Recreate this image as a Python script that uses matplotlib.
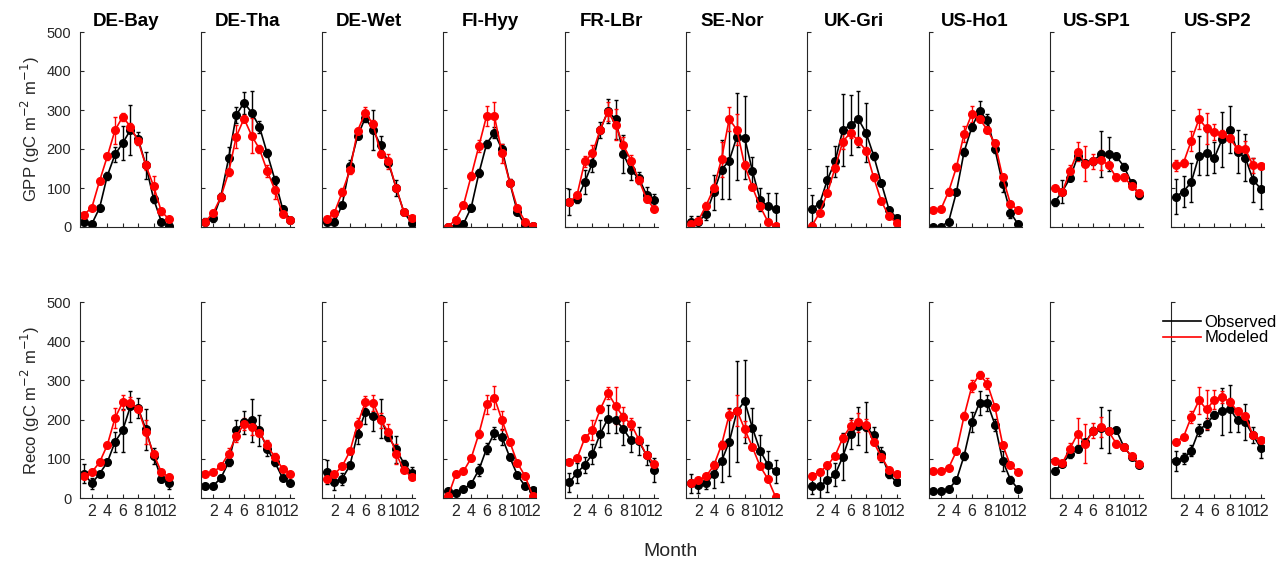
import numpy as np
import matplotlib
matplotlib.use("Agg")
import matplotlib.pyplot as plt

plt.rcParams['font.family'] = ['Liberation Sans', 'DejaVu Sans']

sites = ["DE-Bay", "DE-Tha", "DE-Wet", "FI-Hyy", "FR-LBr",
         "SE-Nor", "UK-Gri", "US-Ho1", "US-SP1", "US-SP2"]
months = np.arange(1, 13)

# monthly GPP, observed (mean, spread) and modeled (mean, spread)
gpp_obs = {
    "DE-Bay": [12, 8, 49, 131, 186, 215, 249, 226, 158, 72, 14, 2],
    "DE-Tha": [14, 23, 78, 176, 287, 319, 293, 257, 189, 121, 47, 19],
    "DE-Wet": [14, 12, 57, 157, 233, 280, 249, 209, 164, 100, 38, 10],
    "FI-Hyy": [0, 1, 8, 50, 138, 213, 242, 199, 114, 38, 4, 2],
    "FR-LBr": [64, 72, 115, 165, 249, 297, 276, 187, 145, 125, 83, 70],
    "SE-Nor": [13, 14, 33, 89, 147, 170, 232, 229, 144, 70, 53, 46],
    "UK-Gri": [47, 60, 121, 168, 249, 262, 277, 242, 183, 112, 44, 23],
    "US-Ho1": [1, 1, 14, 89, 193, 256, 297, 274, 199, 110, 37, 7],
    "US-SP1": [63, 91, 125, 181, 164, 168, 187, 187, 181, 155, 112, 81],
    "US-SP2": [78, 91, 115, 183, 189, 178, 225, 250, 193, 178, 121, 98],
}
gpp_obs_err = {
    "DE-Bay": [8, 5, 8, 10, 20, 44, 64, 17, 34, 10, 5, 3],
    "DE-Tha": [8, 10, 10, 30, 20, 28, 57, 15, 10, 10, 8, 5],
    "DE-Wet": [8, 5, 8, 15, 8, 10, 51, 25, 10, 20, 5, 5],
    "FI-Hyy": [2, 2, 5, 8, 10, 10, 15, 15, 8, 5, 3, 2],
    "FR-LBr": [33, 10, 30, 25, 20, 30, 50, 49, 25, 15, 20, 15],
    "SE-Nor": [15, 15, 15, 45, 75, 97, 112, 107, 35, 30, 35, 40],
    "UK-Gri": [35, 10, 35, 40, 92, 77, 71, 75, 10, 8, 8, 8],
    "US-Ho1": [2, 2, 5, 8, 10, 10, 25, 15, 10, 20, 15, 5],
    "US-SP1": [8, 30, 8, 8, 8, 8, 60, 43, 10, 8, 8, 8],
    "US-SP2": [44, 40, 50, 50, 55, 40, 70, 61, 55, 60, 57, 53],
}
gpp_mod = {
    "DE-Bay": [32, 50, 118, 181, 248, 283, 257, 220, 158, 105, 40, 20],
    "DE-Tha": [14, 36, 77, 140, 232, 278, 234, 200, 144, 95, 33, 19],
    "DE-Wet": [20, 37, 89, 145, 247, 293, 264, 187, 168, 100, 38, 24],
    "FI-Hyy": [1, 19, 56, 131, 208, 285, 285, 189, 114, 48, 14, 2],
    "FR-LBr": [63, 82, 168, 189, 250, 296, 262, 210, 170, 121, 72, 47],
    "SE-Nor": [7, 16, 55, 99, 174, 277, 249, 158, 102, 53, 14, 2],
    "UK-Gri": [3, 37, 87, 152, 219, 242, 221, 196, 127, 66, 27, 10],
    "US-Ho1": [43, 46, 91, 153, 239, 290, 278, 249, 215, 127, 60, 43],
    "US-SP1": [101, 89, 144, 193, 162, 168, 172, 159, 127, 127, 106, 87],
    "US-SP2": [158, 165, 221, 277, 253, 244, 238, 227, 200, 200, 158, 157],
}
gpp_mod_err = {
    "DE-Bay": [5, 5, 8, 10, 34, 10, 10, 8, 12, 27, 8, 5],
    "DE-Tha": [5, 8, 10, 10, 30, 10, 45, 10, 15, 22, 8, 5],
    "DE-Wet": [5, 5, 10, 10, 8, 15, 10, 8, 20, 8, 5, 5],
    "FI-Hyy": [2, 5, 8, 10, 15, 25, 35, 25, 8, 5, 3, 2],
    "FR-LBr": [5, 8, 15, 20, 10, 25, 40, 20, 15, 8, 5, 5],
    "SE-Nor": [3, 5, 8, 10, 45, 30, 40, 10, 8, 5, 3, 2],
    "UK-Gri": [3, 5, 8, 10, 20, 15, 10, 8, 8, 5, 5, 3],
    "US-Ho1": [5, 5, 8, 10, 20, 20, 10, 8, 8, 8, 5, 5],
    "US-SP1": [5, 5, 15, 25, 45, 20, 25, 8, 8, 8, 5, 5],
    "US-SP2": [15, 10, 25, 25, 40, 20, 10, 8, 8, 20, 20, 8],
}

# monthly ecosystem respiration
reco_obs = {
    "DE-Bay": [62, 37, 62, 91, 143, 173, 234, 229, 175, 108, 49, 37],
    "DE-Tha": [30, 31, 51, 91, 173, 193, 198, 173, 126, 91, 51, 37],
    "DE-Wet": [66, 40, 49, 83, 164, 219, 210, 202, 156, 124, 88, 64],
    "FI-Hyy": [17, 13, 23, 36, 72, 126, 166, 155, 104, 58, 30, 20],
    "FR-LBr": [40, 64, 85, 112, 164, 202, 200, 176, 147, 145, 109, 72],
    "SE-Nor": [37, 32, 38, 60, 94, 143, 221, 247, 179, 121, 85, 68],
    "UK-Gri": [30, 31, 45, 60, 105, 164, 183, 182, 160, 111, 60, 40],
    "US-Ho1": [17, 17, 23, 45, 108, 194, 243, 243, 187, 95, 47, 23],
    "US-SP1": [68, 88, 111, 126, 142, 172, 179, 170, 173, 130, 105, 83],
    "US-SP2": [95, 101, 121, 173, 189, 213, 221, 228, 198, 194, 160, 128],
}
reco_obs_err = {
    "DE-Bay": [25, 15, 8, 8, 25, 55, 40, 25, 52, 20, 8, 15],
    "DE-Tha": [5, 5, 8, 10, 25, 30, 55, 40, 20, 10, 5, 5],
    "DE-Wet": [30, 20, 15, 8, 25, 30, 40, 50, 10, 35, 8, 15],
    "FI-Hyy": [3, 3, 5, 8, 15, 15, 15, 20, 8, 5, 5, 5],
    "FR-LBr": [25, 25, 20, 25, 35, 35, 35, 40, 30, 35, 25, 30],
    "SE-Nor": [25, 20, 15, 35, 52, 87, 129, 106, 50, 40, 35, 29],
    "UK-Gri": [20, 30, 30, 30, 60, 40, 49, 64, 20, 20, 8, 8],
    "US-Ho1": [3, 3, 5, 8, 10, 25, 30, 20, 15, 25, 10, 5],
    "US-SP1": [5, 5, 10, 8, 8, 8, 52, 55, 8, 8, 5, 5],
    "US-SP2": [25, 15, 15, 15, 15, 10, 60, 60, 30, 45, 20, 25],
}
reco_mod = {
    "DE-Bay": [57, 66, 91, 135, 204, 244, 243, 228, 168, 113, 66, 53],
    "DE-Tha": [60, 66, 81, 113, 159, 188, 181, 165, 134, 104, 75, 62],
    "DE-Wet": [49, 61, 81, 119, 189, 244, 243, 198, 168, 112, 72, 53],
    "FI-Hyy": [4, 60, 68, 102, 164, 239, 256, 198, 143, 89, 55, 4],
    "FR-LBr": [92, 101, 153, 173, 226, 268, 235, 206, 189, 149, 109, 88],
    "SE-Nor": [37, 45, 55, 83, 135, 213, 223, 176, 130, 81, 49, 3],
    "UK-Gri": [57, 66, 83, 108, 153, 183, 193, 187, 142, 105, 72, 60],
    "US-Ho1": [68, 68, 77, 119, 209, 285, 315, 292, 232, 136, 83, 66],
    "US-SP1": [95, 89, 126, 164, 139, 172, 181, 170, 139, 130, 106, 87],
    "US-SP2": [143, 156, 207, 249, 226, 251, 258, 245, 221, 209, 160, 147],
}
reco_mod_err = {
    "DE-Bay": [5, 5, 8, 8, 25, 20, 15, 8, 30, 8, 5, 5],
    "DE-Tha": [5, 5, 5, 15, 15, 15, 20, 8, 15, 10, 5, 5],
    "DE-Wet": [5, 5, 8, 8, 15, 15, 20, 20, 20, 25, 5, 5],
    "FI-Hyy": [2, 5, 5, 8, 10, 25, 30, 25, 8, 5, 5, 2],
    "FR-LBr": [5, 5, 8, 25, 10, 15, 47, 25, 15, 8, 5, 5],
    "SE-Nor": [5, 5, 5, 8, 10, 15, 40, 20, 8, 5, 5, 2],
    "UK-Gri": [5, 5, 5, 8, 10, 15, 25, 15, 8, 5, 5, 5],
    "US-Ho1": [5, 5, 5, 8, 10, 15, 10, 15, 8, 8, 5, 5],
    "US-SP1": [5, 5, 15, 40, 50, 20, 25, 8, 8, 5, 5, 5],
    "US-SP2": [5, 5, 15, 35, 50, 25, 15, 10, 8, 8, 5, 5],
}

rows = [
    (gpp_obs, gpp_obs_err, gpp_mod, gpp_mod_err, "GPP (gC m$^{-2}$ m$^{-1}$)"),
    (reco_obs, reco_obs_err, reco_mod, reco_mod_err, "Reco (gC m$^{-2}$ m$^{-1}$)"),
]

W, H = 1279, 565
fig = plt.figure(figsize=(W / 100, H / 100), dpi=100)

left0, step, width = 79.5, 121.3, 93
row_px = [(32, 227), (302, 498)]   # top / bottom in pixels

for r, (obs, obs_err, mod, mod_err, ylab) in enumerate(rows):
    top, bot = row_px[r]
    for i, site in enumerate(sites):
        ax = fig.add_axes([(left0 + i * step) / W, 1 - bot / H,
                           width / W, (bot - top) / H])
        ax.errorbar(months, obs[site], yerr=obs_err[site], fmt='-o', color='black',
                    ms=5.5, lw=1.2, elinewidth=1, capsize=1.5, label='Observed')
        ax.errorbar(months, mod[site], yerr=mod_err[site], fmt='-o', color='#ff0000',
                    ms=5.5, lw=1.2, elinewidth=1, capsize=1.5, label='Modeled')
        ax.set_xlim(0.4, 12.45)
        ax.set_ylim(0, 500)
        ax.set_xticks([2, 4, 6, 8, 10, 12])
        ax.set_yticks([0, 100, 200, 300, 400, 500])
        ax.tick_params(direction='in', length=3, width=0.8, colors='#262626')
        ax.tick_params(axis='x', labelsize=11.5, pad=4)
        ax.tick_params(axis='y', labelsize=10.5, pad=6)
        for s in ['top', 'right']:
            ax.spines[s].set_visible(False)
        for s in ['left', 'bottom']:
            ax.spines[s].set_color('#262626')
            ax.spines[s].set_linewidth(0.8)
        if r == 0:
            ax.set_title(site, fontsize=13.5, fontweight='bold', pad=4)
            ax.set_xticklabels([])
        if i == 0:
            ax.set_ylabel(ylab, fontsize=12, color='#262626', labelpad=3)
        else:
            ax.set_yticklabels([])
        if r == 1 and i == len(sites) - 1:
            handles = [plt.Line2D([], [], color='black', lw=1.2),
                       plt.Line2D([], [], color='#ff0000', lw=1.2)]
            ax.legend(handles, ['Observed', 'Modeled'], loc='upper left',
                      bbox_to_anchor=(-0.16, 0.97), frameon=False, fontsize=12,
                      handlelength=2.3, handletextpad=0.2, labelspacing=0.05,
                      borderaxespad=0)

fig.text(0.524, 1 - 552 / H, "Month", ha='center', va='center', fontsize=14,
         color='#262626')

fig.savefig("out.png", dpi=100)
